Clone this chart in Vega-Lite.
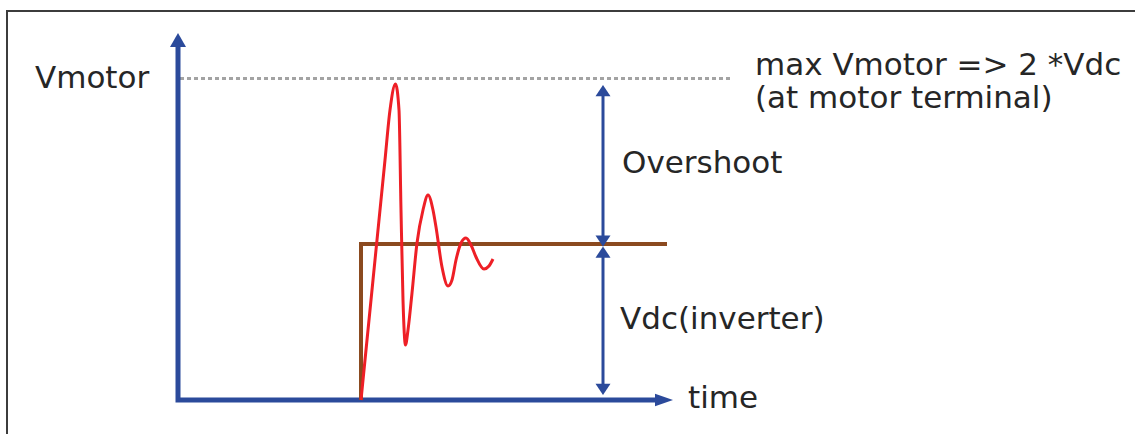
{
  "$schema": "https://vega.github.io/schema/vega-lite/v6.json",
  "autosize": {"type": "none"},
  "width": 1135,
  "height": 434,
  "padding": 0,
  "background": "white",
  "config": {"view": {"stroke": null}},
  "data": {
    "values": [
      {"part": "border", "o": 1, "t": -171, "v": -34},
      {"part": "border", "o": 2, "t": -171, "v": 389},
      {"part": "border", "o": 3, "t": 957, "v": 389},
      {"part": "max", "o": 1, "t": 2, "v": 321.5},
      {"part": "max", "o": 2, "t": 555, "v": 321.5},
      {"part": "axes", "o": 1, "t": 0, "v": 355},
      {"part": "axes", "o": 2, "t": 0, "v": 0},
      {"part": "axes", "o": 3, "t": 479, "v": 0},
      {"part": "dim1", "o": 1, "t": 425, "v": 305},
      {"part": "dim1", "o": 2, "t": 425, "v": 160},
      {"part": "dim2", "o": 1, "t": 425, "v": 150},
      {"part": "dim2", "o": 2, "t": 425, "v": 12},
      {"part": "step", "o": 1, "t": 183, "v": 0},
      {"part": "step", "o": 2, "t": 183, "v": 156},
      {"part": "step", "o": 3, "t": 489, "v": 156},
      {"part": "response", "o": 1, "t": 183, "v": 0},
      {"part": "response", "o": 2, "t": 195, "v": 120},
      {"part": "response", "o": 3, "t": 207, "v": 240},
      {"part": "response", "o": 4, "t": 212, "v": 290},
      {"part": "response", "o": 5, "t": 217.5, "v": 316},
      {"part": "response", "o": 6, "t": 221, "v": 290},
      {"part": "response", "o": 7, "t": 223, "v": 190},
      {"part": "response", "o": 8, "t": 225, "v": 100},
      {"part": "response", "o": 9, "t": 227.5, "v": 55},
      {"part": "response", "o": 10, "t": 230, "v": 70},
      {"part": "response", "o": 11, "t": 234, "v": 107},
      {"part": "response", "o": 12, "t": 239, "v": 157},
      {"part": "response", "o": 13, "t": 245, "v": 190},
      {"part": "response", "o": 14, "t": 250, "v": 205},
      {"part": "response", "o": 15, "t": 255, "v": 190},
      {"part": "response", "o": 16, "t": 258, "v": 173},
      {"part": "response", "o": 17, "t": 264, "v": 133},
      {"part": "response", "o": 18, "t": 270, "v": 114},
      {"part": "response", "o": 19, "t": 274, "v": 120},
      {"part": "response", "o": 20, "t": 278, "v": 140},
      {"part": "response", "o": 21, "t": 283, "v": 157},
      {"part": "response", "o": 22, "t": 288, "v": 162},
      {"part": "response", "o": 23, "t": 293, "v": 155},
      {"part": "response", "o": 24, "t": 298, "v": 143},
      {"part": "response", "o": 25, "t": 306, "v": 131},
      {"part": "response", "o": 26, "t": 311, "v": 134},
      {"part": "response", "o": 27, "t": 315, "v": 141},
      {"part": "headY", "o": 1, "t": 0, "v": 360},
      {"part": "headX", "o": 1, "t": 486, "v": 0},
      {"part": "headUp", "o": 1, "t": 425, "v": 309.4},
      {"part": "headUp", "o": 2, "t": 425, "v": 148},
      {"part": "headDown", "o": 1, "t": 425, "v": 159},
      {"part": "headDown", "o": 2, "t": 425, "v": 10.6},
      {"part": "label", "o": 1, "t": -143, "v": 312, "label": ["Vmotor"]},
      {"part": "label", "o": 2, "t": 577, "v": 325, "label": ["max Vmotor => 2 *Vdc", "(at motor terminal)"]},
      {"part": "label", "o": 4, "t": 444, "v": 227, "label": ["Overshoot"]},
      {"part": "label", "o": 5, "t": 442, "v": 71, "label": ["Vdc(inverter)"]},
      {"part": "label", "o": 6, "t": 510, "v": -8, "label": ["time"]}
    ]
  },
  "encoding": {
    "x": {"field": "t", "type": "quantitative", "scale": {"domain": [-178, 957], "nice": false, "zero": false}, "axis": null},
    "y": {"field": "v", "type": "quantitative", "scale": {"domain": [-34, 400], "nice": false, "zero": false}, "axis": null}
  },
  "layer": [
    {
      "transform": [{"filter": "datum.part === 'border'"}],
      "mark": {"type": "line", "color": "#3c3c3c", "strokeWidth": 2},
      "encoding": {"order": {"field": "o"}}
    },
    {
      "transform": [{"filter": "datum.part === 'max'"}],
      "mark": {"type": "line", "color": "#a3a3a3", "strokeWidth": 3, "strokeDash": [4, 3]},
      "encoding": {"order": {"field": "o"}}
    },
    {
      "transform": [{"filter": "datum.part === 'axes'"}],
      "mark": {"type": "line", "color": "#2b4a9b", "strokeWidth": 5, "strokeJoin": "miter", "strokeCap": "butt"},
      "encoding": {"order": {"field": "o"}}
    },
    {
      "transform": [{"filter": "datum.part === 'dim1' || datum.part === 'dim2'"}],
      "mark": {"type": "line", "color": "#2b4a9b", "strokeWidth": 3},
      "encoding": {"order": {"field": "o"}, "detail": {"field": "part"}}
    },
    {
      "transform": [{"filter": "datum.part === 'step'"}],
      "mark": {"type": "line", "color": "#8b4a1f", "strokeWidth": 4, "strokeJoin": "miter"},
      "encoding": {"order": {"field": "o"}}
    },
    {
      "transform": [{"filter": "datum.part === 'response'"}],
      "mark": {"type": "line", "color": "#ee1f26", "strokeWidth": 3, "interpolate": "monotone"},
      "encoding": {"order": {"field": "o"}}
    },
    {
      "transform": [{"filter": "datum.part === 'headY'"}],
      "mark": {"type": "point", "shape": "M0,-0.875L1,0.875L-1,0.875Z", "size": 256, "filled": true, "color": "#2b4a9b", "opacity": 1, "strokeWidth": 0}
    },
    {
      "transform": [{"filter": "datum.part === 'headX'"}],
      "mark": {"type": "point", "shape": "M1,0L-1,0.7L-1,-0.7Z", "size": 324, "filled": true, "color": "#2b4a9b", "opacity": 1, "strokeWidth": 0}
    },
    {
      "transform": [{"filter": "datum.part === 'headUp'"}],
      "mark": {"type": "point", "shape": "M0,-0.75L1,0.75L-1,0.75Z", "size": 225, "filled": true, "color": "#2b4a9b", "opacity": 1, "strokeWidth": 0}
    },
    {
      "transform": [{"filter": "datum.part === 'headDown'"}],
      "mark": {"type": "point", "shape": "M0,0.75L1,-0.75L-1,-0.75Z", "size": 225, "filled": true, "color": "#2b4a9b", "opacity": 1, "strokeWidth": 0}
    },
    {
      "transform": [{"filter": "datum.part === 'label'"}],
      "mark": {"type": "text", "align": "left", "baseline": "alphabetic", "font": "DejaVu Sans", "fontSize": 31, "lineHeight": 33, "color": "#262626"},
      "encoding": {"text": {"field": "label"}}
    }
  ]
}
